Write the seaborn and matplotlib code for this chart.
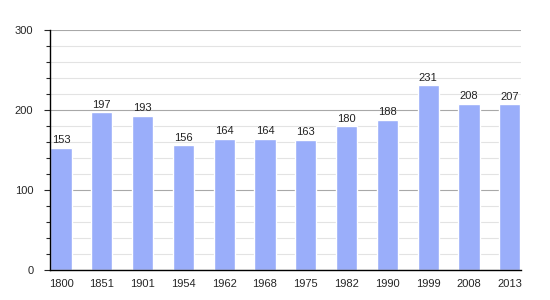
import matplotlib
matplotlib.use("Agg")
import matplotlib.pyplot as plt
import seaborn as sns
import pandas as pd
from matplotlib.ticker import MultipleLocator

years = ["1800", "1851", "1901", "1954", "1962", "1968", "1975", "1982", "1990", "1999", "2008", "2013"]
population = [153, 197, 193, 156, 164, 164, 163, 180, 188, 231, 208, 207]

df = pd.DataFrame({"year": years, "pop": population})

sns.set_style("white")
plt.rcParams['font.family'] = ['Liberation Sans', 'DejaVu Sans']

fig = plt.figure(figsize=(5.5, 3.0), dpi=100)
ax = fig.add_axes([0.0909, 0.1, 0.856, 0.8])

ax.set_ylim(0, 300)
ax.yaxis.set_major_locator(MultipleLocator(100))
ax.yaxis.set_minor_locator(MultipleLocator(20))
ax.grid(which="minor", axis="y", color="#e3e3e3", linewidth=0.8)
ax.grid(which="major", axis="y", color="#a8a8a8", linewidth=0.8)
ax.set_axisbelow(True)

sns.barplot(data=df, x="year", y="pop", color="#9aaefa", saturation=1, width=0.52, ax=ax)
ax.set_xlim(-0.27, len(years) - 1 + 0.27)

for i, v in enumerate(population):
    ax.text(i, v + 3, str(v), ha="center", va="bottom", fontsize=8, color="#222222")

for s in ["top", "right"]:
    ax.spines[s].set_visible(False)
ax.spines["left"].set_color("black")
ax.spines["bottom"].set_color("black")
ax.spines["left"].set_linewidth(1)
ax.spines["bottom"].set_linewidth(1)
ax.tick_params(axis="y", which="major", left=True, length=4, width=0.8, labelsize=8, pad=8)
ax.tick_params(axis="y", which="minor", left=True, length=3, width=0.8)
ax.tick_params(axis="x", bottom=False, labelsize=8, pad=3)
ax.set_xlabel("")
ax.set_ylabel("")

fig.savefig("out.png", dpi=100)
